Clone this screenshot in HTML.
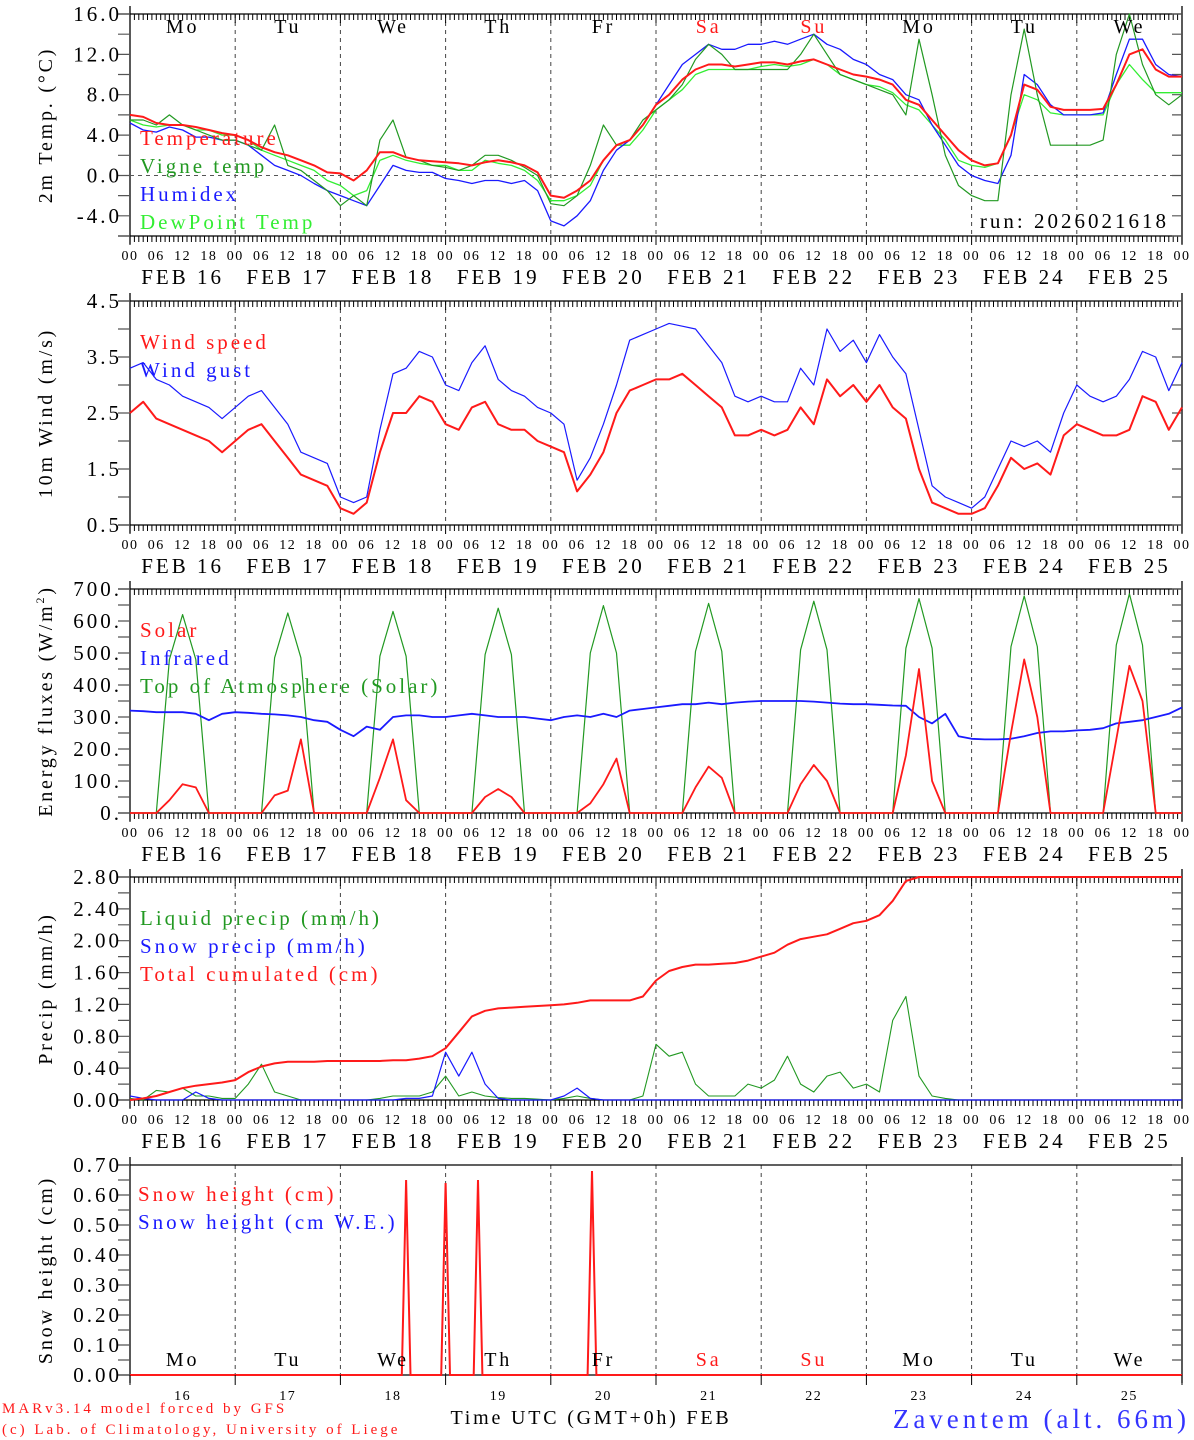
<!DOCTYPE html>
<html><head><meta charset="utf-8"><style>
html,body{margin:0;padding:0;background:#fff;}
svg{display:block;font-family:"Liberation Serif",serif;}
</style></head><body>
<svg id="chart" width="1194" height="1440" viewBox="0 0 1194 1440" xmlns="http://www.w3.org/2000/svg"></svg>
<script>
// ---- data (3-hourly, 81 points from FEB 16 00 UTC) ----
const days = ["16","17","18","19","20","21","22","23","24","25"];
const dayNames = ["Mo","Tu","We","Th","Fr","Sa","Su","Mo","Tu","We"];
const hourLabels = ["00","06","12","18"];
const tempVals = [6.0,5.8,5.2,5.0,5.0,4.8,4.5,4.2, 4.0,3.5,2.8,2.3,2.0,1.5,1.0,0.3, 0.2,-0.5,0.5,2.3,2.3,1.8,1.5,1.4, 1.3,1.2,1.0,1.3,1.5,1.3,1.0,0.3, -2.0,-2.2,-1.5,-0.5,1.5,3.0,3.5,5.0, 7.0,8.0,9.5,10.5,11.0,11.0,10.8,11.0, 11.2,11.2,11.0,11.3,11.5,11.0,10.5,10.0, 9.8,9.5,9.0,7.5,7.0,5.5,4.0,2.5, 1.5,1.0,1.2,4.0,9.0,8.5,6.8,6.5, 6.5,6.5,6.6,9.0,12.0,12.5,10.5,9.8,9.8];
const vigneVals = [5.5,5.5,5.0,6.0,5.0,4.5,4.0,3.5, 3.5,3.0,2.5,5.0,1.0,0.5,-0.5,-1.5, -3.0,-2.0,-3.0,3.5,5.5,1.8,1.5,1.0, 0.8,0.5,1.0,2.0,2.0,1.5,0.8,0.0, -2.8,-3.0,-2.0,1.0,5.0,3.0,3.5,5.5, 6.5,7.5,9.0,11.5,13.0,12.0,10.5,10.5, 10.5,10.5,10.5,12.0,14.0,12.0,10.0,9.5, 9.0,8.5,8.0,6.0,13.5,8.0,2.0,-1.0, -2.0,-2.5,-2.5,8.0,14.5,8.0,3.0,3.0, 3.0,3.0,3.5,12.0,16.0,11.0,8.0,7.0,8.0];
const humidexVals = [5.2,4.5,4.3,4.8,4.5,3.8,3.8,3.5, 3.5,3.0,2.0,1.0,0.5,0.0,-0.8,-1.5, -2.0,-2.5,-3.0,-1.0,1.0,0.5,0.3,0.3, -0.3,-0.5,-0.8,-0.5,-0.5,-0.8,-0.5,-1.5, -4.5,-5.0,-4.0,-2.5,0.5,2.5,3.5,5.0, 7.0,9.0,11.0,12.0,13.0,12.5,12.5,13.0, 13.0,13.3,13.0,13.5,14.0,13.0,12.5,11.5, 11.0,10.0,9.5,8.0,7.5,5.0,3.0,1.0, 0.0,-0.5,-0.8,2.0,10.0,9.0,7.0,6.0, 6.0,6.0,6.2,10.0,13.5,13.5,11.0,10.0,9.8];
const dewVals = [5.5,5.0,4.8,5.0,5.0,4.5,4.5,4.0, 4.0,3.5,2.5,2.0,1.5,1.0,0.5,-0.5, -1.0,-2.0,-1.5,1.5,2.0,1.5,1.2,1.0, 1.0,0.5,0.5,1.5,1.2,1.0,0.5,-0.5, -2.5,-2.5,-2.0,-1.0,1.5,3.0,3.0,4.5, 6.5,7.5,8.5,10.0,10.5,10.5,10.5,10.5, 10.8,11.0,10.8,11.0,11.5,11.0,10.0,9.5, 9.0,8.8,8.2,7.0,6.5,5.0,3.5,1.5, 1.0,0.8,1.2,4.0,8.0,7.5,6.2,6.0, 6.0,6.0,6.0,9.0,11.0,9.5,8.2,8.2,8.2];
const windVals = [2.5,2.7,2.4,2.3,2.2,2.1,2.0,1.8, 2.0,2.2,2.3,2.0,1.7,1.4,1.3,1.2, 0.8,0.7,0.9,1.8,2.5,2.5,2.8,2.7, 2.3,2.2,2.6,2.7,2.3,2.2,2.2,2.0, 1.9,1.8,1.1,1.4,1.8,2.5,2.9,3.0, 3.1,3.1,3.2,3.0,2.8,2.6,2.1,2.1, 2.2,2.1,2.2,2.6,2.3,3.1,2.8,3.0, 2.7,3.0,2.6,2.4,1.5,0.9,0.8,0.7, 0.7,0.8,1.2,1.7,1.5,1.6,1.4,2.1, 2.3,2.2,2.1,2.1,2.2,2.8,2.7,2.2,2.6];
const gustVals = [3.3,3.4,3.1,3.0,2.8,2.7,2.6,2.4, 2.6,2.8,2.9,2.6,2.3,1.8,1.7,1.6, 1.0,0.9,1.0,2.2,3.2,3.3,3.6,3.5, 3.0,2.9,3.4,3.7,3.1,2.9,2.8,2.6, 2.5,2.3,1.3,1.7,2.3,3.0,3.8,3.9, 4.0,4.1,4.05,4.0,3.7,3.4,2.8,2.7, 2.8,2.7,2.7,3.3,3.0,4.0,3.6,3.8, 3.4,3.9,3.5,3.2,2.2,1.2,1.0,0.9, 0.8,1.0,1.5,2.0,1.9,2.0,1.8,2.5, 3.0,2.8,2.7,2.8,3.1,3.6,3.5,2.9,3.4];
const solarVals = [0,0,0,40,90,80,0,0, 0,0,0,55,70,230,0,0, 0,0,0,110,230,40,0,0, 0,0,0,50,75,50,0,0, 0,0,0,30,90,170,0,0, 0,0,0,80,145,110,0,0, 0,0,0,90,150,100,0,0, 0,0,0,180,450,100,0,0, 0,0,0,250,480,300,0,0, 0,0,0,230,460,350,0,0,0];
const irVals = [320,318,315,315,315,310,290,310, 315,313,310,308,305,300,290,285, 260,240,270,260,300,305,305,300, 300,305,310,305,300,300,300,295, 290,300,305,300,310,300,320,325, 330,335,340,340,345,340,345,348, 350,350,350,350,348,345,342,340, 340,338,336,335,300,280,310,240, 232,230,230,232,240,250,255,255, 258,260,265,280,285,290,300,310,330];
const toaVals = [0,0,0,480,620,480,0,0, 0,0,0,485,625,485,0,0, 0,0,0,490,630,490,0,0, 0,0,0,495,640,495,0,0, 0,0,0,500,648,500,0,0, 0,0,0,505,655,505,0,0, 0,0,0,510,662,510,0,0, 0,0,0,515,670,515,0,0, 0,0,0,520,678,520,0,0, 0,0,0,525,685,525,0,0,0];
const liquidVals = [0.02,0,0.12,0.1,0.15,0.05,0.05,0.02, 0.02,0.2,0.45,0.1,0.05,0,0,0, 0,0,0,0.02,0.05,0.05,0.05,0.1, 0.3,0.05,0.1,0.05,0.03,0.02,0.02,0.01, 0,0.02,0.05,0.02,0,0,0,0.05, 0.7,0.55,0.6,0.2,0.05,0.05,0.05,0.2, 0.15,0.25,0.55,0.2,0.1,0.3,0.35,0.15, 0.2,0.1,1.0,1.3,0.3,0.05,0.02,0, 0,0,0,0,0,0,0,0, 0,0,0,0,0,0,0,0,0];
const snowPrecipVals = [0.05,0.02,0,0,0,0.1,0.02,0, 0,0,0,0,0,0,0,0, 0,0,0,0,0,0.02,0.02,0.05, 0.6,0.3,0.6,0.2,0.02,0,0,0, 0,0.05,0.15,0.02,0,0,0,0, 0,0,0,0,0,0,0,0, 0,0,0,0,0,0,0,0, 0,0,0,0,0,0,0,0, 0,0,0,0,0,0,0,0, 0,0,0,0,0,0,0,0,0];
const cumulVals = [0,0.02,0.05,0.1,0.15,0.18,0.2,0.22, 0.25,0.35,0.42,0.46,0.48,0.48,0.48,0.49, 0.49,0.49,0.49,0.49,0.5,0.5,0.52,0.55, 0.65,0.85,1.05,1.12,1.15,1.16,1.17,1.18, 1.19,1.2,1.22,1.25,1.25,1.25,1.25,1.3, 1.5,1.62,1.67,1.7,1.7,1.71,1.72,1.75, 1.8,1.85,1.95,2.02,2.05,2.08,2.15,2.22, 2.25,2.32,2.5,2.75,2.8,2.8,2.8,2.8, 2.8,2.8,2.8,2.8,2.8,2.8,2.8,2.8, 2.8,2.8,2.8,2.8,2.8,2.8,2.8,2.8,2.8];
const snowHours = [63,72,79.4,105.4];
const snowVals = [0.65,0.64,0.65,0.68];

// ---- helpers ----
const svg = document.getElementById('chart');
const NS = 'http://www.w3.org/2000/svg';
const X0 = 130, X1 = 1182;
const LS = {21:3, 20:2.8, 14:1.5, 15:3, 27:4};
function xh(h){ return X0 + (X1 - X0) * h / 240; }
function mk(tag, attrs, parent){
  const e = document.createElementNS(NS, tag);
  for (const k in attrs) e.setAttribute(k, attrs[k]);
  (parent || svg).appendChild(e);
  return e;
}
function txt(s, x, y, size, fill, anchor, parent){
  const t = mk('text', {x:x, y:y, 'font-size':size, fill:fill||'#000', 'text-anchor':anchor||'start', 'letter-spacing':(LS[size]||2)}, parent);
  t.textContent = s;
  return t;
}

function panel(p){
  const g = mk('g', {});
  
  
  const yf = v => p.yb - (v - p.min) / (p.max - p.min) * (p.yb - p.yt);
  for (let d = 1; d < 10; d++) {
    const l = mk('line', {x1:xh(d*24), x2:xh(d*24), y1:p.yt, y2:p.yb, stroke:'#444', 'stroke-width':1, 'stroke-dasharray':'4,4'}, g);
    
    
  }
  mk('line', {x1:118, x2:X1, y1:p.yt, y2:p.yt, stroke:'#000', 'stroke-width':1.3}, g);
  mk('line', {x1:118, x2:X1, y1:p.yb, y2:p.yb, stroke:'#000', 'stroke-width':1.3}, g);
  mk('line', {x1:X0, x2:X0, y1:p.yt-8, y2:p.yb+8, stroke:'#000', 'stroke-width':1.3}, g);
  mk('line', {x1:X1, x2:X1, y1:p.yt-8, y2:p.yb+8, stroke:'#000', 'stroke-width':1.3}, g);
  if (p.hourTicks) {
    let d = '';
    for (let h = 0; h <= 240; h++) {
      const x = xh(h).toFixed(1);
      const len = (h % 24 === 0) ? 9 : 6;
      d += `M${x},${p.yt}v${len}M${x},${p.yb}v${len}`;
    }
    mk('path', {d:d, stroke:'#000', 'stroke-width':1, fill:'none'}, g);
    for (let dd = 0; dd < 10; dd++) {
      hourLabels.forEach((lab, i) => {
        txt(lab, xh(dd*24 + i*6), p.yb + 24, 14, '#000', 'middle', g);
      });
      const fl = txt('FEB ' + days[dd], xh(dd*24 + 12), p.yb + 48, 21, '#000', 'middle', g);
      
      
    }
    txt('00', xh(240), p.yb + 24, 14, '#000', 'middle', g);
  }
  let yd = '';
  for (let v = p.min; v <= p.max + 1e-9; v += p.minor) {
    const y = yf(v).toFixed(1);
    yd += `M118,${y}h12M${X1-10},${y}h10`;
  }
  mk('path', {d:yd, stroke:'#555', 'stroke-width':1.2, fill:'none'}, g);
  p.ticks.forEach(v => {
    const t = txt(v.toFixed(p.dec) + (p.dotEnd ? '.' : ''), 122, yf(v) + 7, 21, '#000', 'end', g);
    
    
  });
  const cy = (p.yt + p.yb) / 2;
  const yt = txt(p.title, 52, cy, 20, '#000', 'middle', g);
  yt.setAttribute('transform', `rotate(-90 52 ${cy})`);
  
  
  if (p.sup) { const ts = mk('tspan', {'font-size':12, dy:-8}, yt); ts.textContent = p.sup; const ts2 = mk('tspan', {dy:8}, yt); ts2.textContent = p.titleEnd; }
  else if (p.titleEnd) { const ts2 = mk('tspan', {}, yt); ts2.textContent = p.titleEnd; }
  if (p.zero) mk('line', {x1:X0, x2:X1, y1:yf(0), y2:yf(0), stroke:'#555', 'stroke-width':1, 'stroke-dasharray':'4,4'}, g);
  p.series.forEach(s => {
    const pts = s.vals.map((v, i) => `${xh(i*3).toFixed(1)},${yf(v).toFixed(1)}`).join(' ');
    const pl = mk('polyline', {points:pts, fill:'none', stroke:s.color, 'stroke-width':s.w, 'stroke-linejoin':'round'}, g);
    
    
  });
  p.legend.forEach((l, i) => {
    const t = txt(l[0], p.lx || 140, p.ly + i*28, 21, l[1], 'start', g);
    
    
  });
  return yf;
}

panel({name:'temperature-panel', yt:14, yb:236, min:-6, max:16, minor:2, ticks:[16,12,8,4,0,-4], dec:1, hourTicks:true, zero:true,
  title:'2m Temp. (', titleEnd:'\u00B0C)',
  series:[
    {name:'dewpoint-line', vals:dewVals, color:'#33ee33', w:1.3},
    {name:'humidex-line', vals:humidexVals, color:'#1a1aff', w:1.3},
    {name:'vigne-temp-line', vals:vigneVals, color:'#229922', w:1.2},
    {name:'temperature-line', vals:tempVals, color:'#ff1a1a', w:2}],
  legend:[['Temperature','#ff1a1a'],['Vigne temp','#229922'],['Humidex','#1a1aff'],['DewPoint Temp','#33ee33']], ly:145});
[...Array(10).keys()].forEach(d => {
  const t = txt(dayNames[d], xh(d*24+12), 33, 20, (d===5||d===6)?'#ff1a1a':'#000', 'middle');
  
  
});
const run = txt('run: 2026021618', 1169, 228, 21, '#000', 'end');



panel({name:'wind-panel', yt:301, yb:525, min:0.5, max:4.5, minor:0.5, ticks:[4.5,3.5,2.5,1.5,0.5], dec:1, hourTicks:true,
  title:'10m Wind (m/s)',
  series:[
    {name:'wind-gust-line', vals:gustVals, color:'#1a1aff', w:1.2},
    {name:'wind-speed-line', vals:windVals, color:'#ff1a1a', w:2}],
  legend:[['Wind speed','#ff1a1a'],['Wind gust','#1a1aff']], ly:349});

panel({name:'energy-panel', yt:589, yb:813, min:0, max:700, minor:50, ticks:[700,600,500,400,300,200,100,0], dec:0, dotEnd:true, hourTicks:true,
  title:'Energy fluxes (W/m', sup:'2', titleEnd:')',
  series:[
    {name:'toa-solar-line', vals:toaVals, color:'#229922', w:1.2},
    {name:'infrared-line', vals:irVals, color:'#1a1aff', w:1.8},
    {name:'solar-line', vals:solarVals, color:'#ff1a1a', w:1.8}],
  legend:[['Solar','#ff1a1a'],['Infrared','#1a1aff'],['Top of Atmosphere (Solar)','#229922']], ly:637});

panel({name:'precip-panel', yt:877, yb:1100, min:0, max:2.8, minor:0.2, ticks:[2.8,2.4,2.0,1.6,1.2,0.8,0.4,0], dec:2, hourTicks:true,
  title:'Precip (mm/h)',
  series:[
    {name:'liquid-precip-line', vals:liquidVals, color:'#229922', w:1.1},
    {name:'snow-precip-line', vals:snowPrecipVals, color:'#1a1aff', w:1.2},
    {name:'cumulated-precip-line', vals:cumulVals, color:'#ff1a1a', w:2}],
  legend:[['Liquid precip (mm/h)','#229922'],['Snow precip (mm/h)','#1a1aff'],['Total cumulated (cm)','#ff1a1a']], ly:925});

const yf5 = panel({name:'snow-panel', yt:1165, yb:1375, min:0, max:0.7, minor:0.05, ticks:[0.7,0.6,0.5,0.4,0.3,0.2,0.1,0], dec:2, hourTicks:false,
  title:'Snow height (cm)', series:[],
  legend:[['Snow height (cm)','#ff1a1a'],['Snow height (cm W.E.)','#1a1aff']], ly:1201, lx:138});
{
  let pts = [`${xh(0)},${yf5(0)}`];
  snowHours.forEach((h, i) => {
    pts.push(`${xh(h-1).toFixed(1)},${yf5(0)}`, `${xh(h).toFixed(1)},${yf5(snowVals[i]).toFixed(1)}`, `${xh(h+1).toFixed(1)},${yf5(0)}`);
  });
  pts.push(`${xh(240)},${yf5(0)}`);
  const pl = mk('polyline', {points:pts.join(' '), fill:'none', stroke:'#ff1a1a', 'stroke-width':2});
  
  
  for (let d = 0; d <= 10; d++) mk('line', {x1:xh(d*24), x2:xh(d*24), y1:1375, y2:1385, stroke:'#000', 'stroke-width':1});
  for (let d = 0; d < 10; d++) {
    const t = txt(dayNames[d], xh(d*24+12), 1366, 20, (d===5||d===6)?'#ff1a1a':'#000', 'middle');
    
    
    txt(days[d], xh(d*24+12), 1400, 14, '#000', 'middle');
  }
}
const f1 = txt('MARv3.14 model forced by GFS', 2, 1413, 15, '#ff1a1a');


const f2 = txt('(c) Lab. of Climatology, University of Liege', 2, 1434, 15, '#ff1a1a');


const xt = txt('Time UTC (GMT+0h) FEB', 591, 1424, 20, '#000', 'middle');


const st = txt('Zaventem (alt. 66m)', 1190, 1428, 27, '#3333ff', 'end');


</script>
</body></html>
